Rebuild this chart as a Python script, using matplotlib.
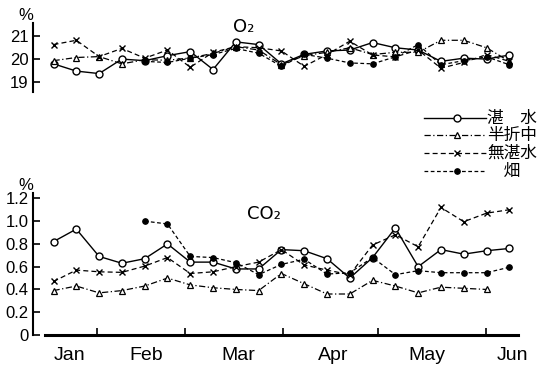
import numpy as np
import matplotlib.pyplot as plt

plt.rcParams['font.family'] = ['Liberation Sans Narrow', 'Liberation Sans', 'DejaVu Sans']

nan = np.nan

# 21 sampling dates, Jan - Jun
dates = np.arange(21)
months = ['Jan', 'Feb', 'Mar', 'Apr', 'May', 'Jun']
month_centers = [0.68, 4.06, 8.09, 12.26, 16.38, 20.15]
month_bounds = [1.89, 5.77, 10.07, 14.24, 18.97]

labels = ['湛\u3000水', '半折中', '無湛水', '\u3000畑']

# O2 (%)
o2_tansui = [19.79, 19.47, 19.36, 20.0, 19.93, 20.15, 20.33, 19.54, 20.76, 20.64, 19.79,
             20.21, 20.36, 20.4, 20.73, 20.5, 20.4, 19.9, 20.04, 20.0, 20.18]
o2_hanori = [19.93, 20.07, 20.11, 19.79, 19.97, 19.95, 20.05, 20.25, 20.55, 20.4, 19.75,
             20.15, 20.3, 20.5, 20.2, 20.3, 20.3, 20.83, 20.83, 20.5, 19.9]
o2_mutansui = [20.64, 20.83, 20.11, 20.47, 20.04, 20.4, 19.64, 20.3, 20.55, 20.5, 20.36,
               19.68, 20.2, 20.79, 20.18, 20.1, 20.4, 19.6, 19.85, 20.2, 19.9]
o2_hatake = [nan, nan, nan, nan, 19.9, 19.85, 20.04, 20.2, 20.47, 20.26, 19.68,
             20.21, 20.04, 19.83, 19.79, 20.1, 20.64, 19.75, 19.93, 20.1, 19.75]

# CO2 (%)
co2_tansui = [0.82, 0.93, 0.69, 0.63, 0.67, 0.80, 0.64, 0.64, 0.58, 0.58, 0.75,
              0.74, 0.67, 0.50, 0.68, 0.94, 0.60, 0.75, 0.71, 0.74, 0.76]
co2_hanori = [0.39, 0.43, 0.37, 0.39, 0.43, 0.50, 0.44, 0.415, 0.40, 0.39, 0.54,
              0.45, 0.36, 0.36, 0.48, 0.43, 0.37, 0.42, 0.41, 0.40, nan]
co2_mutansui = [0.47, 0.57, 0.555, 0.55, 0.605, 0.68, 0.54, 0.555, 0.60, 0.64, 0.75,
                0.615, 0.57, 0.53, 0.79, 0.88, 0.775, 1.12, 0.995, 1.07, 1.10]
co2_hatake = [nan, nan, nan, nan, 1.00, 0.975, 0.69, 0.68, 0.635, 0.53, 0.62,
              0.665, 0.535, 0.547, 0.68, 0.53, 0.565, 0.547, 0.547, 0.547, 0.595]

styles = [
    dict(color='black', lw=1.0, ls='-', marker='o', ms=5, mfc='white', mew=1.0),
    dict(color='black', lw=0.9, ls=(0, (5, 2, 1, 2)), marker='^', ms=4.5, mfc='white', mew=0.9),
    dict(color='black', lw=0.9, ls=(0, (4, 2.5)), marker='x', ms=4, mew=1.0),
    dict(color='black', lw=0.9, ls=(0, (3, 2)), marker='o', ms=4, mfc='black', mew=0.8),
]

fig = plt.figure(figsize=(5.54, 3.66), dpi=100)
W, H = 554, 366


def px_axes(x0, y_top, x1, y_bot):
    return fig.add_axes([x0 / W, 1 - y_bot / H, (x1 - x0) / W, (y_bot - y_top) / H])


xlim = (-0.9, 20.6)

# --- O2 panel
ax1 = px_axes(33, 23.3, 523, 91.7)
for ys, st in zip([o2_tansui, o2_hanori, o2_mutansui, o2_hatake], styles):
    ax1.plot(dates, ys, **st)
ax1.set_xlim(*xlim)
ax1.set_ylim(18.56, 21.58)
ax1.set_yticks([19, 20, 21])
ax1.set_xticks([])
for s in ['top', 'right', 'bottom']:
    ax1.spines[s].set_visible(False)
ax1.spines['left'].set_linewidth(1.5)
ax1.tick_params(axis='y', direction='in', length=5, width=1.2, pad=3, labelsize=12)
ax1.patch.set_alpha(0)
ax1.text(0.43, 0.95, 'O₂', transform=ax1.transAxes, ha='center', va='center', fontsize=13,
         family=['DejaVu Sans'])

# --- CO2 panel
ax2 = px_axes(33, 193, 523, 335)
for ys, st in zip([co2_tansui, co2_hanori, co2_mutansui, co2_hatake], styles):
    ax2.plot(dates, ys, **st)
ax2.set_xlim(*xlim)
ax2.set_ylim(0, 1.247)
ax2.set_yticks([0, 0.2, 0.4, 0.6, 0.8, 1.0, 1.2])
ax2.set_yticklabels(['0', '0.2', '0.4', '0.6', '0.8', '1.0', '1.2'])
for s in ['top', 'right']:
    ax2.spines[s].set_visible(False)
ax2.spines['left'].set_linewidth(1.5)
ax2.spines['bottom'].set_linewidth(2.2)
ax2.spines['bottom'].set_bounds(-0.37, 20.37)
ax2.tick_params(axis='y', direction='in', length=5, width=1.2, pad=3, labelsize=12)
ax2.set_xticks(month_centers)
ax2.set_xticklabels(months)
ax2.tick_params(axis='x', which='major', length=0, pad=9, labelsize=14)
ax2.set_xticks(month_bounds, minor=True)
ax2.tick_params(axis='x', which='minor', direction='in', length=5, width=1.2)
ax2.patch.set_alpha(0)
ax2.text(0.472, 0.85, 'CO₂', transform=ax2.transAxes, ha='center', va='center', fontsize=13,
         family=['DejaVu Sans'])

# percent signs above each y axis
fig.text(26 / W, 1 - 16 / H, '%', ha='center', va='center', fontsize=12)
fig.text(26 / W, 1 - 186 / H, '%', ha='center', va='center', fontsize=12)

# legend drawn by hand between the panels
leg = fig.add_axes([0, 0, 1, 1])
leg.set_xlim(0, W)
leg.set_ylim(H, 0)
leg.axis('off')
rows = [118, 135, 153, 171]
for yr, st, lab in zip(rows, styles, labels):
    leg.plot([424, 486], [yr, yr], color='black', lw=st['lw'], ls=st['ls'])
    leg.plot([457], [yr], marker=st['marker'], ms=st['ms'], mfc=st.get('mfc', 'black'),
             mec='black', mew=st['mew'], ls='none')
    leg.text(487, yr, lab, ha='left', va='center', fontsize=12,
             family=['Noto Sans CJK JP', 'DejaVu Sans'])

fig.savefig('out.png', dpi=100)
